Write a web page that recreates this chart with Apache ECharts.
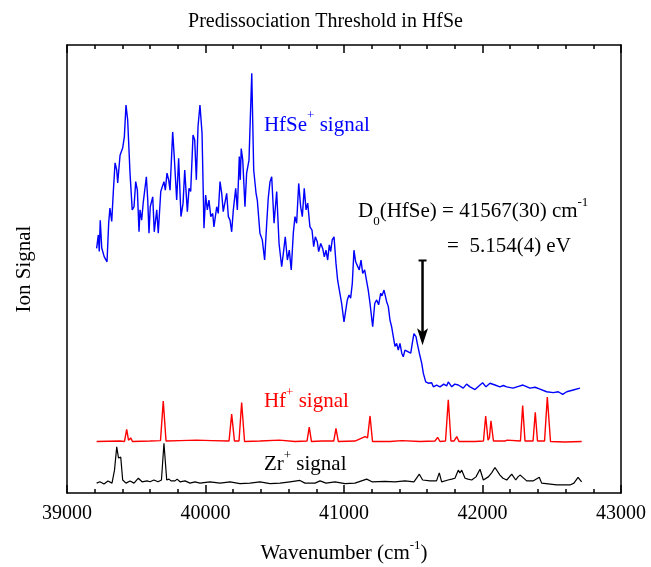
<!DOCTYPE html>
<html>
<head>
<meta charset="utf-8">
<script src="https://cdn.jsdelivr.net/npm/echarts@6/dist/echarts.min.js"></script>
<style>
html, body { margin: 0; padding: 0; background: #fff; }
#chart { width: 651px; height: 567px; }
</style>
</head>
<body>
<div id="chart"></div>
<script>
// HfSe+ signal (blue)
var hfseWn = [39214,39226,39233,39240,39251,39258,39269,39289,39301,39310,39323,39334,39347,39359,39366,39383,39402,39414,39426,39438,
  39455,39471,39484,39496,39508,39520,39527,39539,39551,39563,39573,39583,39592,39601,39619,39630,39648,39659,39677,39688,
  39700,39710,39722,39734,39744,39763,39773,39780,39792,39806,39823,39838,39850,39859,39869,39881,39893,39910,39922,39934,
  39946,39960,39975,39989,40001,40013,40025,40038,40052,40061,40081,40092,40105,40117,40128,40141,40153,40165,40177,40189,
  40201,40218,40230,40244,40251,40258,40269,40285,40297,40314,40334,40348,40365,40374,40393,40410,40427,40442,40453,40466,
  40478,40495,40514,40531,40550,40562,40576,40591,40605,40619,40634,40646,40658,40673,40687,40699,40713,40726,40738,40754,
  40769,40781,40793,40807,40817,40832,40846,40858,40870,40882,40894,40904,40915,40928,40942,40954,40966,40983,41000,41012,
  41024,41036,41048,41060,41072,41084,41096,41110,41123,41135,41149,41164,41175,41188,41207,41222,41236,41250,41265,41274,
  41289,41308,41320,41332,41344,41356,41368,41380,41392,41404,41417,41428,41440,41464,41482,41493,41505,41520,41529,41544,
  41561,41573,41590,41609,41633,41645,41669,41693,41720,41741,41753,41778,41800,41825,41861,41885,41910,41946,41982,42001,
  42025,42054,42090,42126,42150,42175,42220,42260,42292,42343,42380,42415,42463,42511,42547,42579,42608,42655,42704];
var hfseSig = [54.6,57.6,53.9,60.9,54.7,55.0,52.7,51.6,60.3,63.6,60.6,67.0,73.7,72.1,69.2,75.4,77.0,79.5,86.6,83.3,
  71.4,63.2,63.9,69.5,67.6,58.3,63.2,60.9,65.0,65.0,70.6,65.4,58.0,63.9,66.1,58.3,63.2,58.0,67.3,67.3,
  69.5,67.6,71.4,69.9,67.6,80.6,75.8,76.2,65.4,74.7,61.7,64.7,72.1,67.6,62.8,68.0,67.3,79.9,78.8,69.9,
  81.8,86.6,80.3,59.1,66.5,63.2,65.4,61.7,62.4,59.4,63.9,62.4,69.5,66.9,62.8,62.9,66.9,61.7,60.9,58.3,
  63.2,68.0,63.2,75.1,69.9,76.9,74.3,63.9,71.4,74.3,93.7,72.1,66.9,65.4,58.0,56.5,52.0,60.2,65.8,69.5,
  70.6,60.2,67.3,55.7,50.5,53.5,57.2,52.0,54.2,49.8,58.0,61.7,60.2,69.1,63.9,61.7,68.0,63.2,64.7,59.4,
  58.7,55.0,57.2,56.1,53.9,55.7,54.6,52.7,54.2,52.0,55.4,53.9,56.5,57.2,51.3,47.5,47.2,42.3,38.2,38.2,
  43.1,44.2,43.5,46.8,54.2,51.6,52.0,49.8,52.0,49.0,49.8,47.2,45.3,42.3,37.1,42.3,43.1,42.0,44.6,44.0,
  45.3,42.7,41.6,38.6,37.1,34.9,32.7,33.4,31.9,33.4,31.2,30.4,31.9,31.5,31.2,33.4,35.6,34.9,33.4,31.2,
  29.0,26.7,24.8,24.5,24.6,23.7,24.1,23.7,24.3,23.9,24.8,23.7,24.3,24.1,23.4,24.3,23.7,23.1,24.1,24.6,
  23.7,24.5,24.1,23.7,24.0,23.7,23.4,23.8,24.1,23.4,23.6,23.2,22.6,22.4,22.6,22.0,22.6,23.0,23.4];

// Hf+ signal (red)
var hfWn = [39214,39383,39415,39431,39444,39460,39473,39599,39675,39695,39715,39816,39936,40045,40170,40189,40209,40242,40261,40282,
  40393,40533,40646,40733,40749,40765,40841,40926,40942,40959,41079,41152,41170,41188,41206,41332,41417,41549,41657,41676,
  41693,41733,41753,41772,41794,41814,41830,41946,42007,42023,42040,42050,42061,42079,42162,42177,42274,42290,42307,42365,
  42381,42397,42448,42468,42491,42596,42716];
var hfSig = [11.5,11.6,11.5,14.2,11.8,12.3,11.5,11.6,11.7,20.5,11.6,11.7,11.8,11.7,11.6,17.6,11.6,11.6,20.2,11.5,
  11.6,11.8,11.5,11.6,14.7,11.5,11.6,11.6,14.4,11.5,11.6,12.6,12.3,17.2,11.5,11.5,11.7,11.5,11.6,12.4,
  11.5,11.6,20.8,11.6,11.6,12.6,11.5,11.5,11.6,17.2,11.8,12.3,16.1,11.6,11.6,11.8,11.6,19.5,11.6,11.6,
  18.0,11.6,11.6,21.4,11.5,11.4,11.5];

// Zr+ signal (black)
var zrWn = [39214,39238,39267,39296,39325,39343,39359,39372,39378,39388,39402,39426,39455,39484,39515,39542,39578,39599,39628,39657,
  39682,39700,39720,39736,39751,39765,39780,39795,39816,39852,39888,39924,39960,40032,40105,40177,40249,40321,40393,40466,
  40538,40610,40682,40718,40791,40827,40870,40935,41007,41079,41164,41202,41296,41368,41440,41505,41544,41568,41621,41668,
  41688,41705,41751,41778,41801,41825,41837,41850,41874,41895,41922,41953,41982,42006,42042,42066,42090,42126,42148,42175,
  42211,42240,42256,42271,42287,42319,42365,42410,42427,42536,42632,42660,42690,42716];
var zrSig = [2.2,2.5,2.0,2.7,2.2,5.1,10.3,7.8,7.4,8.0,2.9,2.2,2.7,2.2,3.3,2.5,2.7,2.5,2.9,2.5,
  2.9,11.1,2.9,3.1,2.7,3.1,2.7,3.1,2.5,2.7,2.2,2.5,2.2,2.5,2.2,2.5,2.1,2.2,2.5,2.1,
  2.2,2.5,2.8,2.2,2.2,2.7,2.2,2.5,2.1,2.2,3.1,2.5,2.6,2.5,2.7,2.5,4.2,2.9,2.7,2.7,
  4.5,2.5,2.9,3.1,3.3,5.1,4.5,5.1,3.3,3.1,2.9,3.6,5.3,2.9,3.6,4.5,5.7,4.0,3.3,2.9,
  4.2,2.9,3.6,4.0,3.6,2.7,2.7,3.5,2.2,1.8,1.8,2.2,3.5,2.5];

var xTicks = [39000, 40000, 41000, 42000, 43000];
var threshold = 41567;

function pairs(xs, ys) {
    var out = [];
    for (var i = 0; i < xs.length; i++) out.push([xs[i], ys[i]]);
    return out;
}

var serif = 'Liberation Serif';
var chart = echarts.init(document.getElementById('chart'));

var tickStyle = { color: '#000', width: 1.5 };
chart.setOption({
    animation: false,
    title: {
        text: 'Predissociation Threshold in HfSe',
        left: 'center',
        top: 7,
        textStyle: { fontFamily: serif, fontSize: 20, fontWeight: 'normal', color: '#000' }
    },
    grid: { left: 67, right: 30, top: 45, bottom: 74, outerBoundsMode: 'none' },
    xAxis: [{
        type: 'value', min: xTicks[0], max: xTicks[xTicks.length - 1], interval: 1000,
        position: 'bottom',
        name: 'Wavenumber (cm{sup|-1})',
        nameLocation: 'middle', nameGap: 46,
        nameTextStyle: {
            fontFamily: serif, fontSize: 21, color: '#000', lineHeight: 28,
            rich: { sup: { fontFamily: serif, fontSize: 13, lineHeight: 28, verticalAlign: 'top', color: '#000' } }
        },
        axisLine: { onZero: false, lineStyle: tickStyle },
        axisTick: { inside: true, length: 8, lineStyle: tickStyle },
        minorTick: { show: true, splitNumber: 5, length: 4, lineStyle: tickStyle },
        axisLabel: {
            fontFamily: serif, fontSize: 20, color: '#000', margin: 11,
            formatter: function (v) { return String(v); }
        },
        splitLine: { show: false }
    }, {
        type: 'value', min: xTicks[0], max: xTicks[xTicks.length - 1], interval: 1000,
        position: 'top',
        axisLine: { onZero: false, lineStyle: tickStyle },
        axisTick: { inside: true, length: 8, lineStyle: tickStyle },
        minorTick: { show: true, splitNumber: 5, length: 4, lineStyle: tickStyle },
        axisLabel: { show: false },
        splitLine: { show: false }
    }],
    yAxis: [{
        type: 'value', min: 0, max: 100,
        name: 'Ion Signal', nameLocation: 'middle', nameGap: 32,
        nameTextStyle: { fontFamily: serif, fontSize: 21, color: '#000' },
        axisLine: { show: true, onZero: false, lineStyle: tickStyle },
        axisTick: { show: false },
        axisLabel: { show: false },
        splitLine: { show: false }
    }, {
        type: 'value', min: 0, max: 100, position: 'right',
        axisLine: { show: true, onZero: false, lineStyle: tickStyle },
        axisTick: { show: false },
        axisLabel: { show: false },
        splitLine: { show: false }
    }],
    series: [{
        name: 'HfSe+', type: 'line', showSymbol: false,
        data: pairs(hfseWn, hfseSig),
        lineStyle: { color: '#0000ff', width: 1.4 }
    }, {
        name: 'Hf+', type: 'line', showSymbol: false,
        data: pairs(hfWn, hfSig),
        lineStyle: { color: '#ff0000', width: 1.4 }
    }, {
        name: 'Zr+', type: 'line', showSymbol: false,
        data: pairs(zrWn, zrSig),
        lineStyle: { color: '#000', width: 1.2 }
    }]
});

// annotations placed in data coordinates
function px(x, y) { return chart.convertToPixel({ gridIndex: 0 }, [x, y]); }

function label(x, y, text, color) {
    var p = px(x, y);
    return {
        type: 'text', x: p[0], y: p[1],
        style: {
            text: text, fill: color, verticalAlign: 'middle',
            font: '21px "Liberation Serif"',
            rich: {
                n: { fontFamily: serif, fontSize: 21, fill: color, lineHeight: 22, verticalAlign: 'middle' },
                sup: { fontFamily: serif, fontSize: 13, fill: color, lineHeight: 32, verticalAlign: 'top' },
                sub: { fontFamily: serif, fontSize: 13, fill: color, lineHeight: 13, verticalAlign: 'bottom' }
            }
        }
    };
}

var aTop = px(threshold, 51.9);
var aTip = px(threshold, 33.0);
chart.setOption({
    graphic: [
        label(40422, 82.1, '{n|HfSe}{sup|+}{n| signal}', '#0000ff'),
        label(41101, 62.8, '{n|D}{sub|0}{n|(HfSe) = 41567(30) cm}{sup|-1}', '#000'),
        label(41744, 55.0, '{n|=  5.154(4) eV}', '#000'),
        label(40422, 20.4, '{n|Hf}{sup|+}{n| signal}', '#ff0000'),
        label(40422, 6.3, '{n|Zr}{sup|+}{n| signal}', '#000'),
        {
            type: 'line',
            shape: { x1: aTop[0], y1: aTop[1], x2: aTip[0], y2: aTip[1] - 12 },
            style: { stroke: '#000', lineWidth: 2.5 }
        },
        {
            type: 'line',
            shape: { x1: aTop[0] - 4, y1: aTop[1], x2: aTop[0] + 4, y2: aTop[1] },
            style: { stroke: '#000', lineWidth: 2 }
        },
        {
            type: 'polygon',
            shape: { points: [[aTip[0] - 5.5, aTip[1] - 17], [aTip[0], aTip[1] - 13], [aTip[0] + 5.5, aTip[1] - 17], [aTip[0], aTip[1]]] },
            style: { fill: '#000' }
        }
    ]
});
</script>
</body>
</html>
